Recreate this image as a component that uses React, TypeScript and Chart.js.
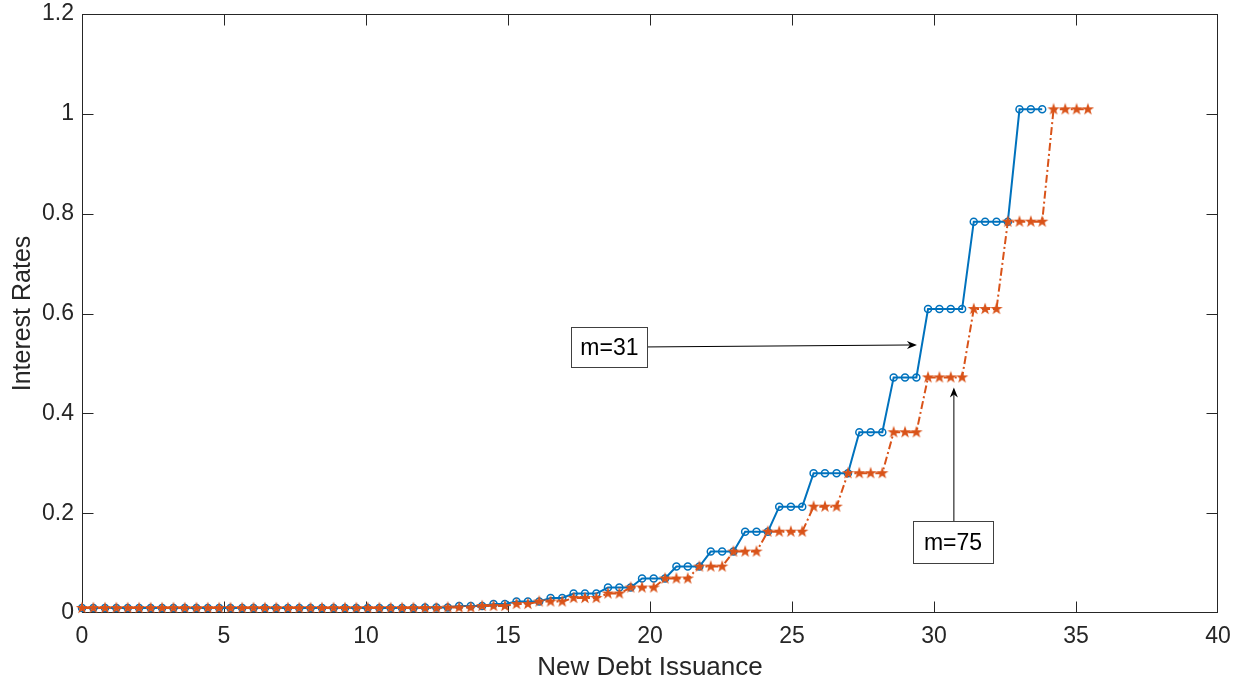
import React, { useEffect, useRef } from 'react';
import { Chart, registerables } from 'chart.js';

Chart.register(...registerables);

// New Debt Issuance (x) for every marker
const issuance: number[] = [
  0, 0.40, 0.81, 1.21, 1.61, 2.01, 2.42, 2.82, 3.22, 3.62,
  4.03, 4.43, 4.83, 5.23, 5.64, 6.04, 6.44, 6.84, 7.25, 7.65,
  8.05, 8.45, 8.86, 9.26, 9.66, 10.06, 10.47, 10.87, 11.27, 11.67,
  12.08, 12.48, 12.88, 13.28, 13.69, 14.09, 14.49, 14.89, 15.30, 15.70,
  16.10, 16.50, 16.91, 17.31, 17.71, 18.11, 18.52, 18.92, 19.32, 19.72,
  20.13, 20.53, 20.93, 21.33, 21.74, 22.14, 22.54, 22.94, 23.35, 23.75,
  24.15, 24.55, 24.96, 25.36, 25.76, 26.16, 26.57, 26.97, 27.37, 27.77,
  28.18, 28.58, 28.98, 29.38, 29.79, 30.19, 30.59, 30.99, 31.40, 31.80,
  32.20, 32.60, 33.01, 33.41, 33.81, 34.21, 34.62, 35.02, 35.42,
];

// Interest rates, m=31 (blue circles)
const rateM31: number[] = [
  0.01, 0.01, 0.01, 0.01, 0.01, 0.01, 0.01, 0.01, 0.01, 0.01,
  0.01, 0.01, 0.01, 0.01, 0.01, 0.01, 0.01, 0.01, 0.01, 0.01,
  0.01, 0.01, 0.01, 0.01, 0.01, 0.01, 0.01, 0.01, 0.01, 0.01,
  0.011, 0.011, 0.011, 0.014, 0.014, 0.014, 0.018, 0.018, 0.023, 0.023,
  0.023, 0.030, 0.030, 0.039, 0.039, 0.039, 0.051, 0.051, 0.051, 0.069,
  0.069, 0.069, 0.093, 0.093, 0.093, 0.123, 0.123, 0.123, 0.163, 0.163,
  0.163, 0.213, 0.213, 0.213, 0.28, 0.28, 0.28, 0.28, 0.362, 0.362,
  0.362, 0.472, 0.472, 0.472, 0.609, 0.609, 0.609, 0.609, 0.784, 0.784,
  0.784, 0.784, 1.009, 1.009, 1.009,
];

// Interest rates, m=75 (orange stars)
const rateM75: number[] = [
  0.01, 0.01, 0.01, 0.01, 0.01, 0.01, 0.01, 0.01, 0.01, 0.01,
  0.01, 0.01, 0.01, 0.01, 0.01, 0.01, 0.01, 0.01, 0.01, 0.01,
  0.01, 0.01, 0.01, 0.01, 0.01, 0.01, 0.01, 0.01, 0.01, 0.01,
  0.01, 0.01, 0.011, 0.011, 0.011, 0.014, 0.014, 0.014, 0.018, 0.018,
  0.023, 0.023, 0.023, 0.030, 0.030, 0.030, 0.039, 0.039, 0.051, 0.051,
  0.051, 0.069, 0.069, 0.069, 0.093, 0.093, 0.093, 0.123, 0.123, 0.123,
  0.163, 0.163, 0.163, 0.163, 0.213, 0.213, 0.213, 0.28, 0.28, 0.28,
  0.28, 0.362, 0.362, 0.362, 0.472, 0.472, 0.472, 0.472, 0.609, 0.609,
  0.609, 0.784, 0.784, 0.784, 0.784, 1.009, 1.009, 1.009, 1.009,
];

const xTickValues = [0, 5, 10, 15, 20, 25, 30, 35, 40];
const yTickValues = [0, 0.2, 0.4, 0.6, 0.8, 1, 1.2];
const xTitle = 'New Debt Issuance';
const yTitle = 'Interest Rates';
const seriesNames = ['m=31', 'm=75'];

// Text-box annotations (data coordinates for box centre and arrow ends)
const notes = [
  { text: 'm=31', cx: 18.57, cy: 0.5325, w: 76, h: 40, from: [19.9, 0.533], to: [29.4, 0.537] },
  { text: 'm=75', cx: 30.67, cy: 0.1417, w: 80, h: 42, from: [30.7, 0.184], to: [30.7, 0.452] },
];

const BLUE = '#0072BD';
const ORANGE = '#D95319';
const AXIS = '#262626';
const FONT = '"Liberation Sans", Arial, Helvetica, sans-serif';
const TICK = 11;

function makeStar(): HTMLCanvasElement {
  const c = document.createElement('canvas');
  c.width = 14;
  c.height = 14;
  const g = c.getContext('2d')!;
  const R = 6.5;
  const r = R * 0.40;
  g.beginPath();
  for (let i = 0; i < 10; i++) {
    const ang = -Math.PI / 2 + (i * Math.PI) / 5;
    const rad = i % 2 === 0 ? R : r;
    const px = 7 + rad * Math.cos(ang);
    const py = 7 + rad * Math.sin(ang);
    if (i === 0) g.moveTo(px, py);
    else g.lineTo(px, py);
  }
  g.closePath();
  g.fillStyle = ORANGE;
  g.fill();
  return c;
}

function drawArrow(ctx: CanvasRenderingContext2D, x1: number, y1: number, x2: number, y2: number) {
  const ang = Math.atan2(y2 - y1, x2 - x1);
  const len = 10;
  const hw = 4;
  const back = 3;
  const bx = x2 - len * Math.cos(ang);
  const by = y2 - len * Math.sin(ang);
  const nx = -Math.sin(ang);
  const ny = Math.cos(ang);
  const mx = x2 - (len - back) * Math.cos(ang);
  const my = y2 - (len - back) * Math.sin(ang);
  ctx.beginPath();
  ctx.moveTo(x1, y1);
  ctx.lineTo(mx, my);
  ctx.stroke();
  ctx.beginPath();
  ctx.moveTo(x2, y2);
  ctx.lineTo(bx + nx * hw, by + ny * hw);
  ctx.lineTo(mx, my);
  ctx.lineTo(bx - nx * hw, by - ny * hw);
  ctx.closePath();
  ctx.fill();
}

const matlabAxes = {
  id: 'matlabAxes',
  beforeDatasetsDraw(chart: any) {
    const { ctx, chartArea: a, scales } = chart;
    const xs = scales.x;
    const ys = scales.y;
    ctx.save();
    ctx.strokeStyle = AXIS;
    ctx.lineWidth = 1;
    const L = Math.round(a.left) + 0.5;
    const R = Math.round(a.right) - 0.5;
    const T = Math.round(a.top) + 0.5;
    const B = Math.round(a.bottom) - 0.5;
    ctx.strokeRect(L, T, R - L, B - T);
    ctx.beginPath();
    for (const v of xTickValues) {
      const p = Math.min(R, Math.max(L, Math.round(xs.getPixelForValue(v)) + 0.5));
      ctx.moveTo(p, B);
      ctx.lineTo(p, B - TICK);
      ctx.moveTo(p, T);
      ctx.lineTo(p, T + TICK);
    }
    for (const v of yTickValues) {
      const p = Math.min(B, Math.max(T, Math.round(ys.getPixelForValue(v)) + 0.5));
      ctx.moveTo(L, p);
      ctx.lineTo(L + TICK, p);
      ctx.moveTo(R, p);
      ctx.lineTo(R - TICK, p);
    }
    ctx.stroke();
    ctx.restore();
  },
  afterDatasetsDraw(chart: any) {
    const { ctx, scales } = chart;
    const xs = scales.x;
    const ys = scales.y;
    ctx.save();
    for (const n of notes) {
      ctx.strokeStyle = '#000';
      ctx.fillStyle = '#000';
      ctx.lineWidth = 1;
      drawArrow(
        ctx,
        xs.getPixelForValue(n.from[0]),
        ys.getPixelForValue(n.from[1]),
        xs.getPixelForValue(n.to[0]),
        ys.getPixelForValue(n.to[1])
      );
      const cx = xs.getPixelForValue(n.cx);
      const cy = ys.getPixelForValue(n.cy);
      const bx = Math.round(cx - n.w / 2) + 0.5;
      const by = Math.round(cy - n.h / 2) + 0.5;
      ctx.fillStyle = '#fff';
      ctx.fillRect(bx, by, n.w, n.h);
      ctx.strokeStyle = '#404040';
      ctx.strokeRect(bx, by, n.w, n.h);
      ctx.fillStyle = '#000';
      ctx.font = `23px ${FONT}`;
      ctx.textAlign = 'center';
      ctx.textBaseline = 'middle';
      ctx.fillText(n.text, cx, cy + 1);
    }
    ctx.restore();
  },
};

export default function App() {
  const ref = useRef<HTMLCanvasElement>(null);

  useEffect(() => {
    document.body.style.margin = '0';
    const canvas = ref.current;
    if (!canvas) return;
    const star = makeStar();
    const chart = new Chart(canvas, {
      type: 'line',
      data: {
        datasets: [
          {
            label: seriesNames[0],
            data: rateM31.map((y, i) => ({ x: issuance[i], y })),
            borderColor: BLUE,
            borderWidth: 2,
            pointStyle: 'circle',
            pointRadius: 3.5,
            pointBorderWidth: 1.5,
            pointBorderColor: BLUE,
            pointBackgroundColor: 'rgba(0,0,0,0)',
            showLine: true,
            fill: false,
            tension: 0,
            clip: false,
            order: 1,
          } as any,
          {
            label: seriesNames[1],
            data: rateM75.map((y, i) => ({ x: issuance[i], y })),
            borderColor: ORANGE,
            borderWidth: 2,
            borderDash: [8, 3, 2, 3],
            pointStyle: star,
            pointRadius: 6,
            showLine: true,
            fill: false,
            tension: 0,
            clip: false,
            order: 0,
          } as any,
        ],
      },
      options: {
        animation: false,
        responsive: false,
        maintainAspectRatio: false,
        events: [],
        layout: { padding: { left: 0, right: 24, top: 14, bottom: 0 } },
        plugins: { legend: { display: false }, tooltip: { enabled: false } },
        scales: {
          x: {
            type: 'linear',
            min: 0,
            max: 40,
            grid: { display: false, drawTicks: false },
            border: { display: false },
            afterBuildTicks: (s: any) => {
              s.ticks = xTickValues.map((v) => ({ value: v }));
            },
            afterFit: (s: any) => {
              s.height = 72;
              s.paddingLeft = 0;
              s.paddingRight = 0;
            },
            ticks: {
              padding: 10,
              color: AXIS,
              autoSkip: false,
              maxRotation: 0,
              font: { family: FONT, size: 23 },
              callback: (v: any) => String(v),
            },
            title: {
              display: true,
              text: xTitle,
              color: AXIS,
              font: { family: FONT, size: 26 },
              padding: { top: 0, bottom: 2 },
            },
          },
          y: {
            type: 'linear',
            min: 0,
            max: 1.2,
            grid: { display: false, drawTicks: false },
            border: { display: false },
            afterBuildTicks: (s: any) => {
              s.ticks = yTickValues.map((v) => ({ value: v }));
            },
            afterFit: (s: any) => {
              s.width = 82;
              s.paddingTop = 0;
              s.paddingBottom = 0;
            },
            ticks: {
              padding: 8,
              color: AXIS,
              autoSkip: false,
              font: { family: FONT, size: 23 },
              callback: (v: any) => String(Math.round(Number(v) * 10) / 10),
            },
            title: {
              display: true,
              text: yTitle,
              color: AXIS,
              font: { family: FONT, size: 25 },
              padding: { top: 8, bottom: 0 },
            },
          },
        },
      } as any,
      plugins: [matlabAxes],
    });
    return () => chart.destroy();
  }, []);

  return (
    <div style={{ width: 1242, height: 685, background: '#fff' }}>
      <canvas ref={ref} width={1242} height={685} style={{ display: 'block' }} />
    </div>
  );
}
